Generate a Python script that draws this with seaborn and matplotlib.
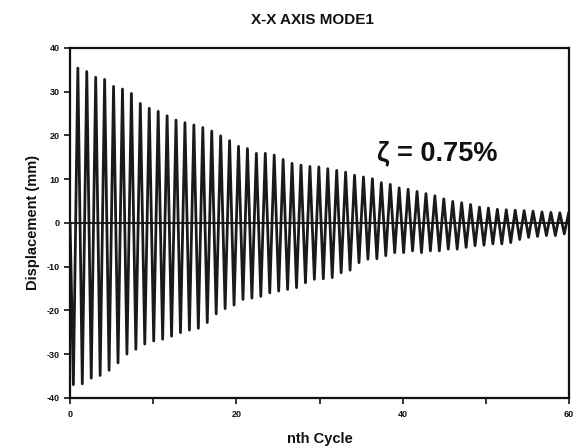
import numpy as np
import pandas as pd
import matplotlib
matplotlib.use("Agg")
import matplotlib.pyplot as plt
import seaborn as sns

# Free-vibration record, X-X axis, mode 1
peak_mm = [35.4, 34.6, 33.3, 32.8, 31.2, 30.6, 29.6, 27.3, 26.2, 25.5, 24.5,
           23.5, 22.9, 22.4, 21.8, 21.0, 19.9, 18.8, 17.5, 17.0, 15.9,
           15.9, 15.5, 14.5, 13.6, 13.2, 12.9, 12.8, 12.4, 12.0, 11.6,
           10.9, 10.5, 10.1, 9.2, 8.8, 8.0, 7.7, 7.2, 6.7, 6.2, 5.5,
           4.9, 4.6, 4.2, 3.6, 3.4, 3.1, 3.0, 2.9, 2.8, 2.7, 2.5, 2.4, 2.3, 2.4]
trough_mm = [-37.0, -36.8, -35.5, -34.9, -33.7, -32.0, -30.0, -28.9, -27.7,
             -27.0, -26.6, -25.9, -25.1, -24.5, -24.1, -22.8, -20.8, -19.6,
             -18.8, -17.5, -17.2,
             -16.8, -16.0, -15.6, -15.2, -14.8, -13.7, -12.9, -12.8, -12.5,
             -11.4, -10.8, -9.1, -8.3, -8.2, -7.5, -6.8, -6.8, -6.4, -6.8,
             -6.4, -6.4, -6.0,
             -6.0, -5.6, -5.2, -5.1, -4.8, -4.8, -4.5, -3.8, -3.3, -3.1,
             -2.9, -2.9, -2.5]
first_trough_cycle = 0.4
cycle_length = 1.073

x_ticks = [0, 10, 20, 30, 40, 50, 60]
x_tick_labels = ["0", "", "20", "", "40", "", "60"]
y_ticks = [-40, -30, -20, -10, 0, 10, 20, 30, 40]

# Assemble the trace: start at rest, then trough / peak alternately each cycle
cycles = [0.0]
disp = [0.0]
for i, (lo, hi) in enumerate(zip(trough_mm, peak_mm)):
    cycles += [first_trough_cycle + i * cycle_length,
               first_trough_cycle + (i + 0.5) * cycle_length]
    disp += [lo, hi]
trace = pd.DataFrame({"cycle": cycles, "disp": disp})

sns.set_style("ticks")
plt.rcParams["font.family"] = ["Liberation Sans", "DejaVu Sans"]
plt.rcParams["font.weight"] = "bold"
plt.rcParams["text.color"] = "#111111"
plt.rcParams["axes.labelcolor"] = "#111111"
plt.rcParams["axes.unicode_minus"] = False

fig = plt.figure(figsize=(5.79, 4.48), dpi=100)
ax = fig.add_axes([0.121, 0.112, 0.862, 0.781])

sns.lineplot(data=trace, x="cycle", y="disp", sort=False, estimator=None,
             color="#1a1a1a", linewidth=2.0, ax=ax)
ax.axhline(0, color="#111111", linewidth=1.3, zorder=3)

ax.set_xlim(0, 60)
ax.set_ylim(-40, 40)
ax.set_xticks(x_ticks)
ax.set_xticklabels(x_tick_labels)
ax.set_yticks(y_ticks)
ax.tick_params(axis="both", direction="out", length=4, width=1.2,
               labelsize=6.5, color="#111111", labelcolor="#111111")
ax.tick_params(axis="x", pad=5)
for s in ax.spines.values():
    s.set_visible(True)
    s.set_linewidth(1.6)
    s.set_color("#111111")

ax.set_xlabel("nth Cycle", fontsize=10.5, fontweight="bold", labelpad=9)
ax.set_ylabel("Displacement (mm)", fontsize=10.5, fontweight="bold", labelpad=5)
fig.suptitle("X-X AXIS MODE1", x=0.54, y=0.97, fontsize=11, fontweight="bold",
             color="#111111")

ax.text(44.2, 16.0, "\u03b6 = 0.75%", fontsize=19.5, fontweight="bold",
        ha="center", va="center", color="#111111")

fig.savefig("out.png", dpi=100)
